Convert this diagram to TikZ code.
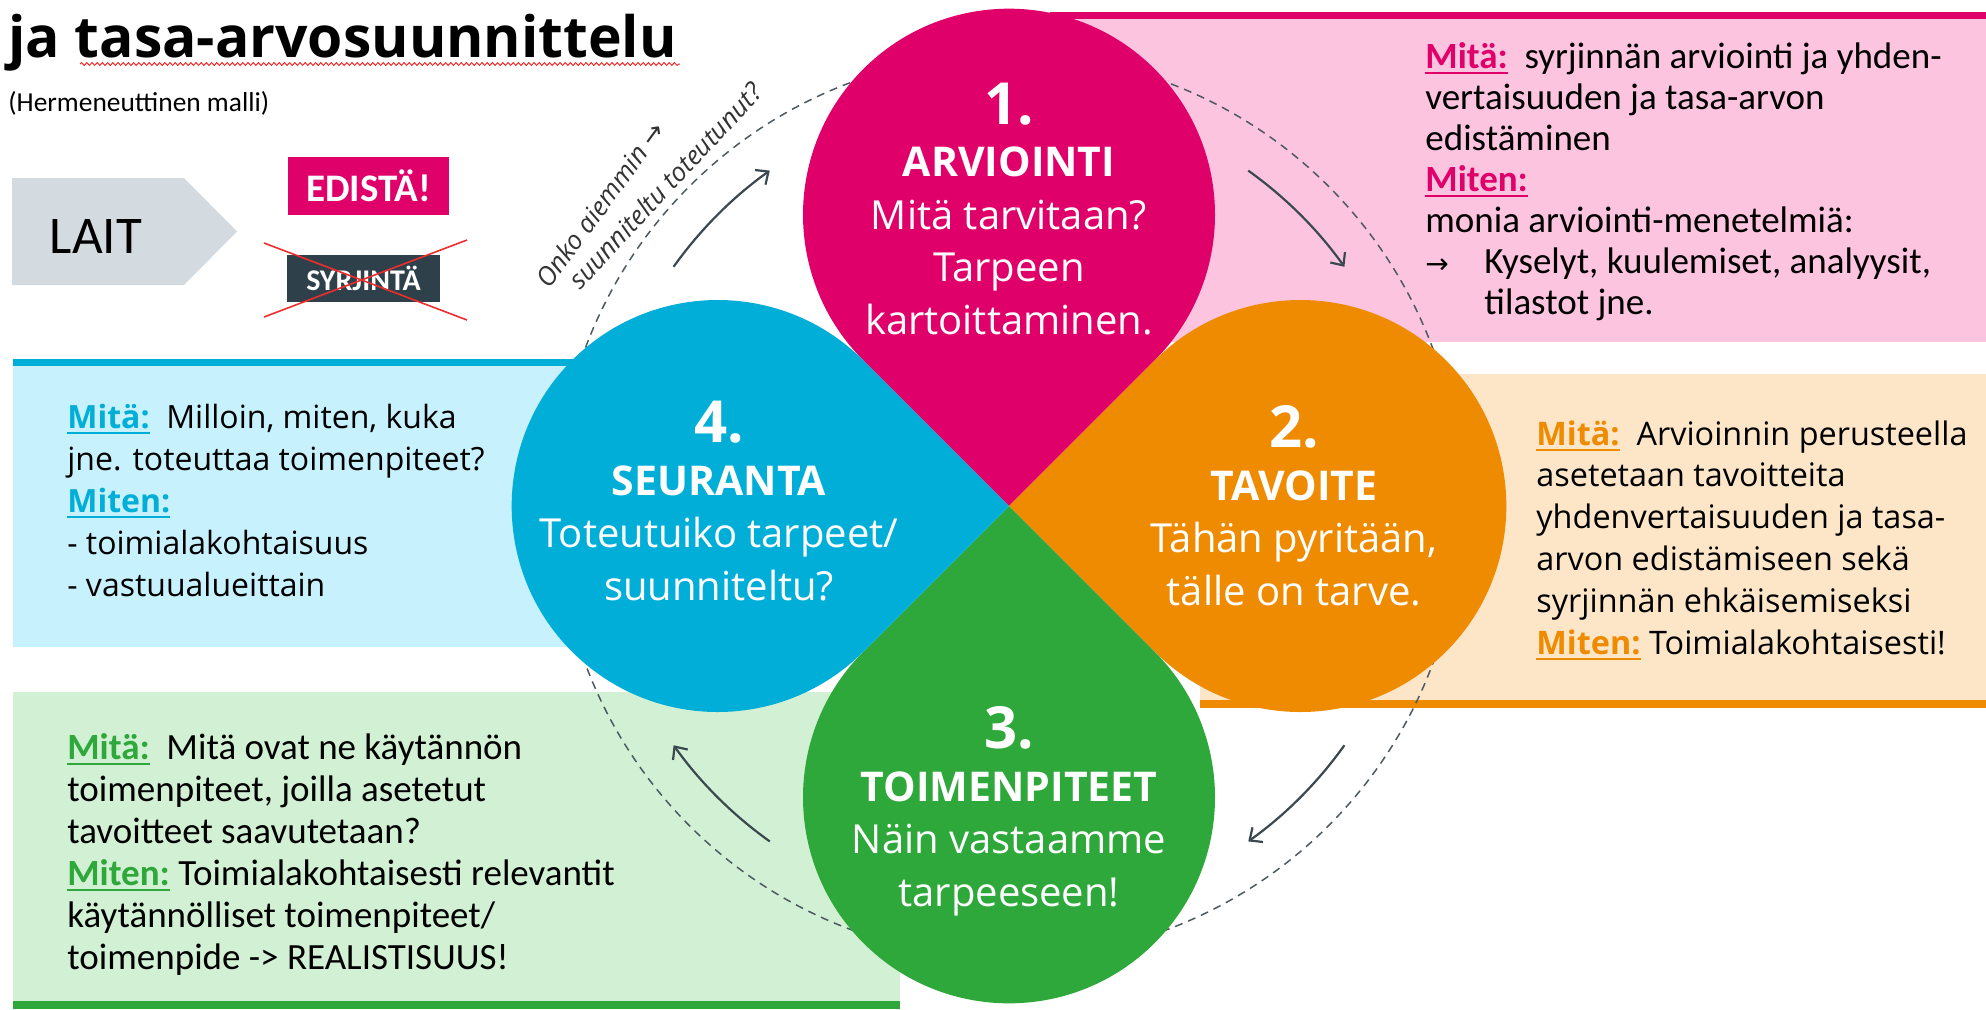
\documentclass[tikz,border=0pt]{standalone}
\usepackage{fontspec}
\setmainfont{Open Sans}
\newfontfamily\calfont{Carlito}
\newfontfamily\symfont{DejaVu Sans}
\usetikzlibrary{arrows.meta,calc,decorations.pathmorphing}
\definecolor{mag}{RGB}{224,0,106}
\definecolor{magl}{RGB}{253,196,224}
\definecolor{ora}{RGB}{238,139,0}
\definecolor{oral}{RGB}{253,230,200}
\definecolor{gre}{RGB}{46,168,58}
\definecolor{grel}{RGB}{210,241,212}
\definecolor{blu}{RGB}{0,174,216}
\definecolor{blul}{RGB}{198,241,253}
\definecolor{laitc}{RGB}{212,219,224}
\definecolor{slate}{RGB}{46,64,74}
\definecolor{arrc}{RGB}{58,72,80}
\definecolor{xred}{RGB}{238,45,45}
\newsavebox\labbox
\newcommand\lab[2]{\sbox\labbox{\color{#1}\bfseries #2}{\color{#1}\rlap{\rule[-3pt]{\wd\labbox}{0.9pt}}\usebox\labbox}}
\newcommand\pnum{\bfseries\fontsize{29}{26.25}\selectfont}
\newcommand\phead{\bfseries\fontsize{20.5}{26.25}\selectfont}
\begin{document}
\begin{tikzpicture}[x=0.5pt,y=-0.5pt,>={Straight Barb[length=5pt,width=9pt]},
    boxtxt/.style={anchor=base west,align=left,inner sep=0},
    ptxt/.style={anchor=base,align=center,text=white,inner sep=0,font=\fontsize{20}{26.25}\selectfont},
    tag/.style={text=white,inner sep=0,font=\calfont\bfseries},
    rottxt/.style={text=black!80,inner sep=0,font=\itshape\fontsize{13}{15}\selectfont}]
\useasboundingbox(0,0)rectangle(1986,1009);
\fill[magl](1050,19)rectangle(1986,342);
\fill[mag](1050,12)rectangle(1986,19);
\fill[oral](1200,374)rectangle(1986,700);
\fill[ora](1200,700)rectangle(1986,708);
\fill[blul](13,366)rectangle(800,647);
\fill[blu](13,359)rectangle(800,366);
\fill[grel](13,692)rectangle(900,1001);
\fill[gre](13,1001)rectangle(900,1009);
\coordinate(o)at(1009,506);
\draw[arrc!90,dash pattern=on 4pt off 3pt,line width=0.75pt](o)circle[radius=452];
\foreach \a/\c in {-90/mag,0/ora,90/gre,180/blu}
{
    \fill[\c](o)--++(\a-45:206)arc[start angle=\a-135,end angle=\a+135,radius=206]--cycle;
}
\foreach \a in {-45,45,135,225}
{
    \draw[->,arrc,line width=1.1pt](o)++(\a-9.5:412)arc[start angle=\a-9.5,end angle=\a+9.5,radius=412];
}
% last lines sit on the given base
\node[ptxt](p1)at(1009,334){{\pnum 1.}\\{\phead ARVIOINTI}\\Mitä tarvitaan?\\Tarpeen\\kartoittaminen.};
\node[ptxt](p2)at(1294,605){{\pnum 2.}\\{\phead TAVOITE}\\Tähän pyritään,\\tälle on tarve.};
\node[ptxt](p3)at(1009,906){{\pnum 3.}\\{\phead TOIMENPITEET}\\Näin vastaamme\\tarpeeseen!};
\node[ptxt](p4)at(719,600){{\pnum 4.}\\{\phead SEURANTA}\\Toteutuiko tarpeet/\\suunniteltu?};
\node[boxtxt,font=\calfont\fontsize{18.5}{20.5}\selectfont](t1)at(1425,314){\lab{mag}{Mitä:}\ \ syrjinnän arviointi ja yhden-\\vertaisuuden ja tasa-arvon\\edistäminen\\\lab{mag}{Miten:}\\monia arviointi-menetelmiä:\\\makebox[29.5pt][l]{\symfont\fontsize{14}{16}\selectfont →}Kyselyt, kuulemiset, analyysit,\\\hspace*{29.5pt}tilastot jne.};
\node[boxtxt,font=\fontsize{16.2}{20.9}\selectfont](t2)at(1536,654){\lab{ora}{Mitä:}\ \ Arvioinnin perusteella\\asetetaan tavoitteita\\yhdenvertaisuuden ja tasa-\\arvon edistämiseen sekä\\syrjinnän ehkäisemiseksi\\\lab{ora}{Miten:} Toimialakohtaisesti!};
\node[boxtxt,font=\calfont\fontsize{18.5}{21}\selectfont](t3)at(67,969){\lab{gre}{Mitä:}\ \ Mitä ovat ne käytännön\\toimenpiteet, joilla asetetut\\tavoitteet saavutetaan?\\\lab{gre}{Miten:} Toimialakohtaisesti relevantit\\käytännölliset toimenpiteet/\\toimenpide -> REALISTISUUS!};
\node[boxtxt,font=\fontsize{16}{21}\selectfont](t4)at(67,596){\lab{blu}{Mitä:}\ \ Milloin, miten, kuka\\jne. toteuttaa toimenpiteet?\\\lab{blu}{Miten:}\\- toimialakohtaisuus\\- vastuualueittain};
\node[anchor=base west,inner sep=0,font=\bfseries\fontsize{28.5}{30}\selectfont](title)at(8,57){ja tasa-arvosuunnittelu};
\draw[xred,line width=0.5pt,decorate,decoration={snake,amplitude=0.7pt,segment length=2.6pt}](80,64)--(680,64);
\node[anchor=base west,inner sep=0,font=\calfont\fontsize{13.7}{16}\selectfont](sub)at(8,111){(Hermeneuttinen malli)};
\fill[laitc](12,178)--(184,178)--(237,231.5)--(184,285)--(12,285)--cycle;
\node[font=\calfont\fontsize{26.5}{30}\selectfont](lait)at(96,236){LAIT};
\node[tag,fill=mag,minimum width=80.5pt,minimum height=29pt,font=\calfont\bfseries\fontsize{19.5}{22}\selectfont](edista)at(368.5,186){EDISTÄ!};
\node[tag,fill=slate,minimum width=76.5pt,minimum height=23.5pt,font=\calfont\bfseries\fontsize{15}{18}\selectfont](syrj)at(363.5,278.5){SYRJINTÄ};
\draw[xred,line width=0.8pt](264,243)--(467,320)(264,317)--(467,240);
\node[rottxt,rotate=53.6](q1)at($(o)+(-143.6:508)$){Onko aiemmin {\symfont\upshape →}};
\node[rottxt,rotate=47](q2)at($(o)+(-137:470)$){suunniteltu toteutunut?};
\end{tikzpicture}
\end{document}
